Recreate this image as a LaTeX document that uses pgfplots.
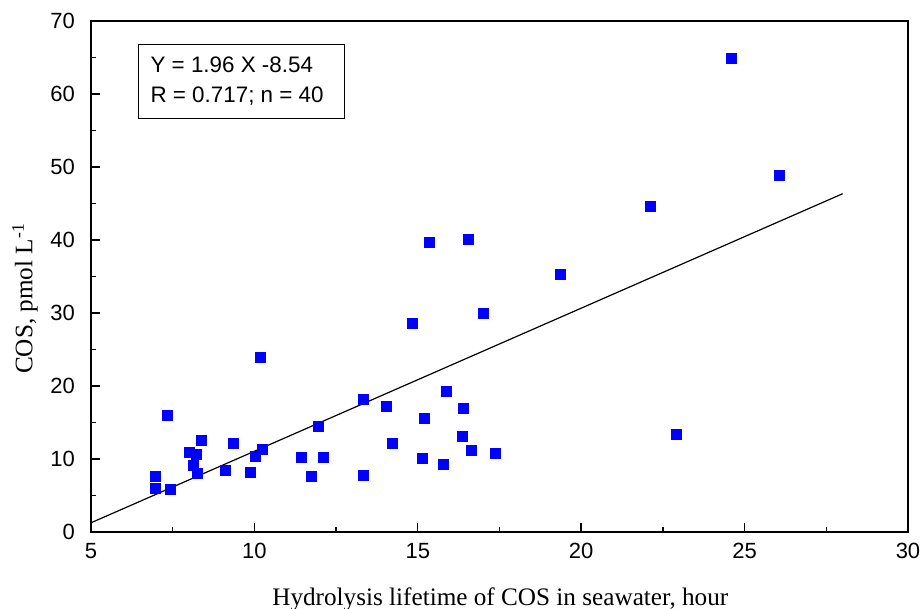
\documentclass[border=0pt]{standalone}
\usepackage{fontspec}
\setmainfont{Liberation Serif}
\setsansfont{Liberation Sans}
\usepackage{pgfplots}
\pgfplotsset{compat=1.18}
\begin{document}
\begin{tikzpicture}
\useasboundingbox (-45.5pt,-38.5pt) rectangle (415.5pt,266pt);
\begin{axis}[
  at={(0,0)}, anchor=south west,
  scale only axis,
  width=408.5pt, height=255.5pt,
  xmin=5, xmax=30, ymin=0, ymax=70,
  xtick={5,10,...,30}, ytick={0,10,...,70},
  minor x tick num=1, minor y tick num=1,
  xtick pos=bottom, ytick pos=left,
  tick align=inside,
  major tick length=4.5pt, minor tick length=2.6pt,
  axis line style={line width=1pt},
  every tick/.style={black, line width=0.7pt},
  /pgf/number format/assume math mode=true,
  tick label style={font=\sffamily\fontsize{11}{12}\selectfont},
  xticklabel style={yshift=-2pt},
  yticklabel style={xshift=-4.5pt},
  label style={font=\fontsize{12.6}{14}\selectfont},
  xlabel={Hydrolysis lifetime of COS in seawater, hour},
  ylabel={COS, pmol L\textsuperscript{-1}},
  xlabel style={at={(axis description cs:0.501,-0.131)}, anchor=center},
  ylabel style={at={(axis description cs:-0.0808,0.457)}, anchor=center},
  clip=false,
]
\addplot[only marks, mark=square*, mark size=2.5pt, color=blue, mark options={fill=blue, draw=blue}] coordinates {
(6.98,7.58) (6.98,5.98) (7.35,15.98) (7.42,5.9) (8.01,10.96) (8.23,10.6)
(8.13,9.08) (8.26,8.0) (8.38,12.55) (9.12,8.5) (9.37,12.1) (9.87,8.17)
(10.02,10.37) (10.19,23.9) (10.26,11.37) (11.43,10.23) (11.74,7.58)
(11.96,14.5) (12.11,10.18) (13.33,18.2) (13.33,7.7)
(15.37,39.7) (16.55,40.1) (17.0,30.0) (14.82,28.6) (14.03,17.26)
(15.88,19.3) (16.41,16.9) (15.2,15.6) (14.21,12.15) (16.36,13.15)
(16.64,11.14) (17.37,10.78) (15.13,10.1) (15.78,9.27)
(24.6,64.9) (26.07,48.8) (22.11,44.66) (19.36,35.3) (22.91,13.42)
};
\addplot[black, line width=0.6pt] coordinates {(5,1.26) (28,46.34)};
\node[draw=black, line width=0.5pt, anchor=north west, minimum width=103pt, minimum height=37pt,
  align=left, inner xsep=6pt, font=\sffamily\fontsize{11.2}{15}\selectfont]
  at (axis cs:6.44,66.85) {\makebox[91pt][l]{Y = 1.96 X -8.54}\\\makebox[91pt][l]{R = 0.717; n = 40}};
\end{axis}
\end{tikzpicture}
\end{document}
